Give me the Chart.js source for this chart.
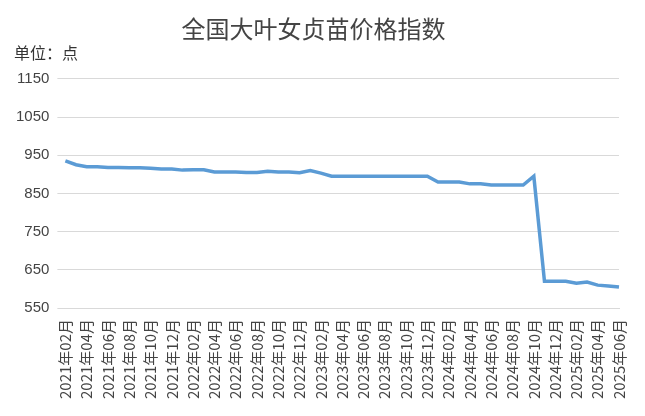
<!DOCTYPE html>
<html>
<head>
<meta charset="utf-8">
<script src="https://cdn.jsdelivr.net/npm/chart.js@4/dist/chart.umd.min.js"></script>
<style>
  body { margin: 0; background: #fff; }
  #wrap { position: relative; width: 645px; height: 416px; }
  #unit { position: absolute; left: 14px; top: 40px; font: 16px "Noto Sans CJK SC"; color: #333; }
</style>
</head>
<body>
<div id="wrap">
  <div id="unit">单位：点</div>
  <canvas id="priceChart" width="645" height="416"></canvas>
</div>
<script>
const years = [2021, 2022, 2023, 2024, 2025];
const months = [];
for (const y of years) {
  for (let m = 1; m <= 12; m++) {
    if ((y === 2021 && m < 2) || (y === 2025 && m > 6)) continue;
    months.push(y + '年' + String(m).padStart(2, '0') + '月');
  }
}
const priceIndex = [
  935, 925, 920, 920, 918, 918, 917, 917, 916, 914, 914,
  911, 912, 912, 906, 906, 906, 905, 905, 908, 906, 906, 904,
  910, 903, 895, 895, 895, 895, 895, 895, 895, 895, 895, 895,
  880, 880, 880, 875, 875, 872, 872, 872, 872, 895, 620, 620,
  620, 615, 618, 610, 608, 605
];
const yTicks = [550, 650, 750, 850, 950, 1050, 1150];

const ctx = document.getElementById('priceChart');
new Chart(ctx, {
  type: 'line',
  data: {
    labels: months,
    datasets: [{
      data: priceIndex,
      borderColor: '#5b9bd5',
      borderWidth: 3.5,
      pointRadius: 0,
      tension: 0
    }]
  },
  options: {
    responsive: false,
    animation: false,
    layout: { padding: { left: 8, right: 26, top: 6, bottom: 14 } },
    plugins: {
      legend: { display: false },
      title: {
        display: true,
        text: '全国大叶女贞苗价格指数',
        color: '#444',
        font: { family: 'Noto Sans CJK SC', size: 24, weight: 'normal' },
        padding: { top: 8, bottom: 36 }
      }
    },
    scales: {
      y: {
        min: 550,
        max: 1150,
        afterBuildTicks: (axis) => { axis.ticks = yTicks.map(v => ({ value: v })); },
        ticks: { color: '#444', font: { family: 'Liberation Sans', size: 15 }, callback: v => String(v), padding: 8 },
        grid: { color: '#d9d9d9' },
        border: { display: false }
      },
      x: {
        ticks: {
          autoSkip: false,
          maxRotation: 90,
          minRotation: 90,
          color: '#444',
          font: { family: 'Noto Sans CJK SC', size: 15 },
          callback: (v, i) => (i % 2 === 0 ? months[i] : '')
        },
        grid: { display: false },
        border: { color: '#d9d9d9' }
      }
    }
  }
});
</script>
</body>
</html>
